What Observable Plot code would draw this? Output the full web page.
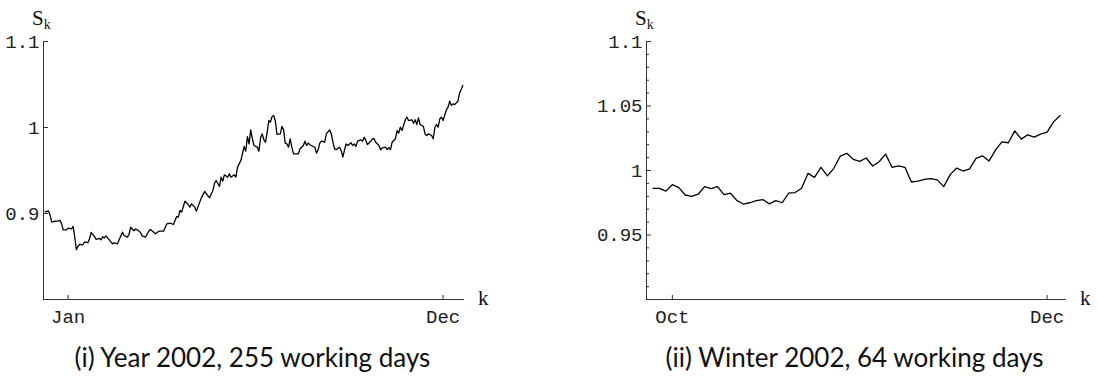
<!DOCTYPE html>
<html><head><meta charset="utf-8">
<script src="https://cdn.jsdelivr.net/npm/d3@7"></script>
<script src="https://cdn.jsdelivr.net/npm/@observablehq/plot@0.6"></script>
<style>
html,body{margin:0;padding:0;background:#fff;}
#wrap{position:relative;width:1098px;height:382px;overflow:hidden;background:#fff;}
.panel{position:absolute;top:0;width:549px;height:382px;}
.panel svg{position:absolute;left:0;top:0;overflow:visible;}
.ylab{position:absolute;font-family:"Liberation Serif","Times New Roman",serif;font-size:21px;line-height:1;color:#111;white-space:nowrap;}
.ylab span{font-size:14px;position:relative;top:4px;}
.klab{position:absolute;font-family:"Liberation Serif","Times New Roman",serif;font-size:21px;line-height:1;color:#111;}
.cap{position:absolute;top:342px;width:549px;font-family:Lato,"Liberation Sans",sans-serif;font-size:26px;line-height:1.2;white-space:nowrap;text-align:center;color:#111;}
</style>
</head><body>
<div id="wrap">
  <div class="panel" id="p1"></div>
  <div class="panel" id="p2" style="left:549px"></div>
</div>
<script>
// ---- Panel (i): Year 2002, 255 working days ----
const yearK = [1,3,4,5,7,9,10,11,12,14,15,17,18,19,20,21,22,24,25,27,28,29,31,32,34,35,36,37,38,40,42,43,45,46,48,49,51,52,53,55,56,57,59,60,62,64,65,67,68,70,71,73,75,77,79,81,82,83,84,86,88,89,90,92,93,95,96,98,100,101,103,104,105,107,108,109,110,112,113,114,116,117,118,120,122,123,124,125,126,127,128,130,131,132,133,134,135,136,137,138,139,140,141,142,144,145,146,147,148,149,150,151,152,155,156,158,159,160,161,162,164,165,166,167,168,169,171,172,174,175,176,177,178,180,181,182,183,184,185,187,188,189,190,191,193,194,195,196,197,199,200,201,202,204,205,206,208,209,210,211,212,214,215,216,217,218,220,221,222,224,225,226,227,228,229,231,232,233,234,236,237,238,239,240,241,242,243,245,246,247,248,249,250,252,253,255];
const yearS = [0.902,0.903,0.898,0.890,0.891,0.8915,0.892,0.888,0.881,0.881,0.883,0.882,0.885,0.8725,0.858,0.862,0.864,0.8636,0.867,0.866,0.8706,0.878,0.873,0.870,0.871,0.8694,0.873,0.8717,0.874,0.8694,0.8647,0.8659,0.8647,0.8694,0.8783,0.8744,0.8725,0.8756,0.884,0.880,0.882,0.881,0.878,0.874,0.8725,0.8794,0.8814,0.8783,0.8764,0.8791,0.8794,0.8794,0.888,0.8887,0.8872,0.8965,0.8957,0.9035,0.9016,0.9143,0.9105,0.9074,0.9113,0.9074,0.9027,0.9132,0.9182,0.9256,0.9206,0.9182,0.9267,0.9352,0.9384,0.9314,0.9422,0.9376,0.945,0.9422,0.9461,0.9422,0.945,0.9422,0.9539,0.9616,0.9779,0.9725,0.9895,0.981,0.9973,0.9869,0.9791,0.9771,0.9725,0.988,0.9926,0.9857,0.9829,0.9946,1.0081,1.0062,1.0128,1.014,1.0073,0.9919,0.9926,1.0012,0.9973,0.9818,0.981,0.9771,0.9869,0.9771,0.9694,0.9694,0.9752,0.9791,0.9841,0.9791,0.9818,0.9799,0.9779,0.9771,0.9702,0.9741,0.9818,0.9841,0.9829,0.9926,0.9973,0.9926,0.9829,0.9752,0.9741,0.9771,0.9733,0.9655,0.9733,0.981,0.9791,0.9822,0.9791,0.981,0.9779,0.9841,0.9857,0.9841,0.9888,0.9849,0.9802,0.9841,0.9869,0.9869,0.9829,0.9791,0.9741,0.9764,0.9771,0.9744,0.9764,0.9744,0.9829,0.9869,0.9965,0.9934,1.0003,0.9965,1.009,1.012,1.0081,1.009,1.005,1.009,1.0035,1.0113,1.0035,1.0012,0.9926,0.9907,0.9926,0.9907,0.9869,1.0003,1.0035,1.0003,1.0101,1.012,1.0081,1.0206,1.0237,1.0306,1.0256,1.0275,1.0267,1.0306,1.0399,1.0488];
const yearXDomain = [0, 256];
const yearYDomain = [0.8, 1.1];
const yearYTicks = [0.9, 1, 1.1];
const yearYTickLabels = ["0.9", "1", "1.1"];
const yearXTicks = [15, 243];
const yearXTickLabels = ["Jan", "Dec"];
const yearCaption = "(i) Year 2002, 255 working days";

// ---- Panel (ii): Winter 2002, 64 working days ----
const winterK = d3.range(1, 65);
const winterS = [0.9862,0.9862,0.984,0.989,0.9867,0.981,0.980,0.9816,0.9875,0.986,0.9875,0.9813,0.9824,0.9767,0.974,0.975,0.9767,0.9775,0.9741,0.9767,0.975,0.9824,0.9829,0.9862,0.9978,0.9947,1.0025,0.9958,1.0017,1.0112,1.0133,1.0087,1.0071,1.0097,1.0035,1.0068,1.0127,1.0025,1.0035,1.0025,0.9911,0.9917,0.9932,0.9937,0.9927,0.9875,0.9968,1.0019,0.9996,1.0012,1.0094,1.0114,1.0073,1.0158,1.0222,1.0215,1.0307,1.0243,1.0277,1.0259,1.0282,1.0297,1.0377,1.0426];
const winterXDomain = [0, 65];
const winterYDomain = [0.9, 1.1];
const winterYTicks = [0.95, 1, 1.05, 1.1];
const winterYTickLabels = ["0.95", "1", "1.05", "1.1"];
const winterYMinorTicks = [0.91,0.92,0.93,0.94,0.96,0.97,0.98,0.99,1.01,1.02,1.03,1.04,1.06,1.07,1.08,1.09];
const winterXTicks = [4, 62];
const winterXTickLabels = ["Oct", "Dec"];
const winterCaption = "(ii) Winter 2002, 64 working days";

const axisColor = "#333";
const monoFont = '"Courier New","Liberation Mono",monospace';

function panel(el, o) {
  const data = o.k.map((k, i) => ({k, s: o.s[i]}));
  const marks = [
    Plot.ruleX([o.xDomain[0]], {stroke: axisColor, strokeWidth: 1}),
    Plot.ruleY([o.yDomain[0]], {stroke: axisColor, strokeWidth: 1}),
    // inward ticks: positive tick length shifted inside the frame by dx/dy
    Plot.axisY(o.yTicks, {label: null, tickSize: 5, dx: 5, tickPadding: 4, stroke: axisColor, strokeWidth: 1, tickFormat: (d, i) => o.yLabels[i], fill: "#222"}),
    Plot.axisX(o.xTicks, {label: null, tickSize: 4, dy: -4, tickPadding: 10, stroke: axisColor, strokeWidth: 1, tickFormat: (d, i) => o.xLabels[i], fill: "#222"})
  ];
  if (o.minor) marks.push(Plot.axisY(o.minor, {label: null, tickSize: 3, dx: 3, stroke: axisColor, strokeWidth: 1, tickFormat: () => ""}));
  marks.push(Plot.line(data, {x: "k", y: "s", stroke: "#000", strokeWidth: 1.3}));
  const chart = Plot.plot({
    width: 549, height: 340,
    marginLeft: o.ml, marginRight: o.mr, marginTop: 41, marginBottom: 41,
    x: {domain: o.xDomain, label: null},
    y: {domain: o.yDomain, label: null},
    style: {fontFamily: monoFont, fontSize: "19px", background: "transparent", color: "#222"},
    marks
  });
  el.appendChild(chart);
  const ylab = document.createElement("div");
  ylab.className = "ylab";
  ylab.style.left = (o.ml - 11) + "px";
  ylab.style.top = "8px";
  ylab.innerHTML = 'S<span>k</span>';
  el.appendChild(ylab);
  const klab = document.createElement("div");
  klab.className = "klab";
  klab.style.left = (549 - o.mr + 14) + "px";
  klab.style.top = "288px";
  klab.textContent = "k";
  el.appendChild(klab);
  const cap = document.createElement("div");
  cap.className = "cap";
  cap.style.left = (o.capShift) + "px";
  cap.textContent = o.caption;
  el.appendChild(cap);
}

panel(document.getElementById("p1"), {
  k: yearK, s: yearS, xDomain: yearXDomain, yDomain: yearYDomain,
  yTicks: yearYTicks, yLabels: yearYTickLabels, xTicks: yearXTicks, xLabels: yearXTickLabels,
  ml: 43, mr: 85, caption: yearCaption, capShift: -22
});
panel(document.getElementById("p2"), {
  k: winterK, s: winterS, xDomain: winterXDomain, yDomain: winterYDomain,
  yTicks: winterYTicks, yLabels: winterYTickLabels, xTicks: winterXTicks, xLabels: winterXTickLabels,
  minor: winterYMinorTicks,
  ml: 97, mr: 32, caption: winterCaption, capShift: 31
});
</script>
</body></html>
